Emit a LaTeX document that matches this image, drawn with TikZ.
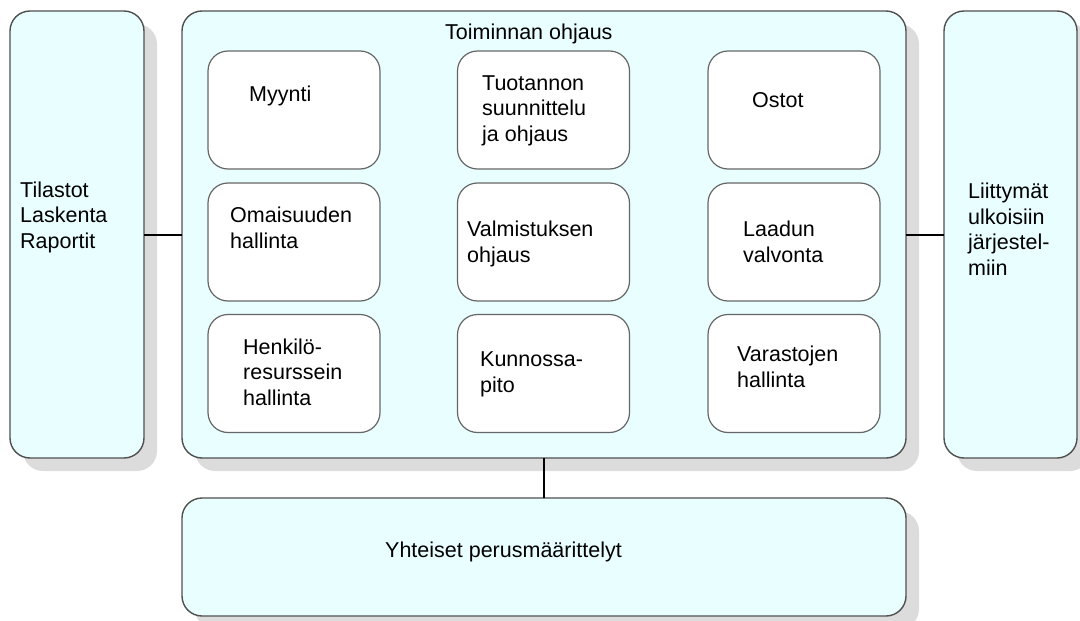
\documentclass[tikz,border=0pt]{standalone}
\usepackage{fontspec}
\setmainfont{Liberation Sans}
\usetikzlibrary{shadows}
\definecolor{boxfill}{HTML}{E8FEFF}
\definecolor{boxline}{HTML}{505050}
\definecolor{innerline}{HTML}{666666}
\definecolor{shadowgray}{HTML}{DCDCDC}
\begin{document}
\begin{tikzpicture}[x=1pt,y=-1pt,
  outerbox/.style={draw=boxline, line width=1.4pt, fill=boxfill, rounded corners=20pt,
    inner sep=0pt, outer sep=0pt,
    drop shadow={shadow xshift=13pt, shadow yshift=-13pt, fill=shadowgray, opacity=1}},
  innerbox/.style={draw=innerline, line width=1.2pt, fill=white, rounded corners=20pt,
    inner sep=0pt, outer sep=0pt, minimum width=172pt, minimum height=118pt},
  lbl/.style={anchor=base west, inner sep=0pt, align=left,
    font=\fontsize{21.5}{25.5}\selectfont},
  conn/.style={draw=black, line width=1.8pt}]
\useasboundingbox (0,0) rectangle (1080,621);
% outer boxes
\node[outerbox, minimum width=134pt, minimum height=447pt] (L) at (77,234.5) {};
\node[outerbox, minimum width=724pt, minimum height=447pt] (M) at (544,234.5) {};
\node[outerbox, minimum width=133pt, minimum height=447pt] (R) at (1010.5,234.5) {};
\node[outerbox, minimum width=724pt, minimum height=118pt] (B) at (544,557) {};
% connectors
\draw[conn] (L.east |- 0,235) -- (M.west |- 0,235);
\draw[conn] (M.east |- 0,235) -- (R.west |- 0,235);
\draw[conn] (M.south) -- (B.north);
% inner boxes
\node[innerbox] (b11) at (294,110) {};
\node[innerbox] (b12) at (543.5,110) {};
\node[innerbox] (b13) at (794,110) {};
\node[innerbox] (b21) at (294,242) {};
\node[innerbox] (b22) at (543.5,242) {};
\node[innerbox] (b23) at (794,242) {};
\node[innerbox] (b31) at (294,373.5) {};
\node[innerbox] (b32) at (543.5,373.5) {};
\node[innerbox] (b33) at (794,373.5) {};
% texts (base anchor = baseline of the last line)
\node[lbl] (tL) at (20,248) {Tilastot\\Laskenta\\Raportit};
\node[lbl] (tR) at (968,275) {Liittymät\\ulkoisiin\\järjestel-\\miin};
\node[lbl] (tM) at (445,39) {Toiminnan ohjaus};
\node[lbl] (t11) at (249,101) {Myynti};
\node[lbl] (t12) at (482,141) {Tuotannon\\suunnittelu\\ja ohjaus};
\node[lbl] (t13) at (752,107) {Ostot};
\node[lbl] (t21) at (230,248) {Omaisuuden\\hallinta};
\node[lbl] (t22) at (467,262) {Valmistuksen\\ohjaus};
\node[lbl] (t23) at (743,262) {Laadun\\valvonta};
\node[lbl] (t31) at (243,405) {Henkilö-\\resurssein\\hallinta};
\node[lbl] (t32) at (480,392) {Kunnossa-\\pito};
\node[lbl] (t33) at (737,387) {Varastojen\\hallinta};
\node[lbl] (tB) at (385,557) {Yhteiset perusmäärittelyt};
\end{tikzpicture}
\end{document}
